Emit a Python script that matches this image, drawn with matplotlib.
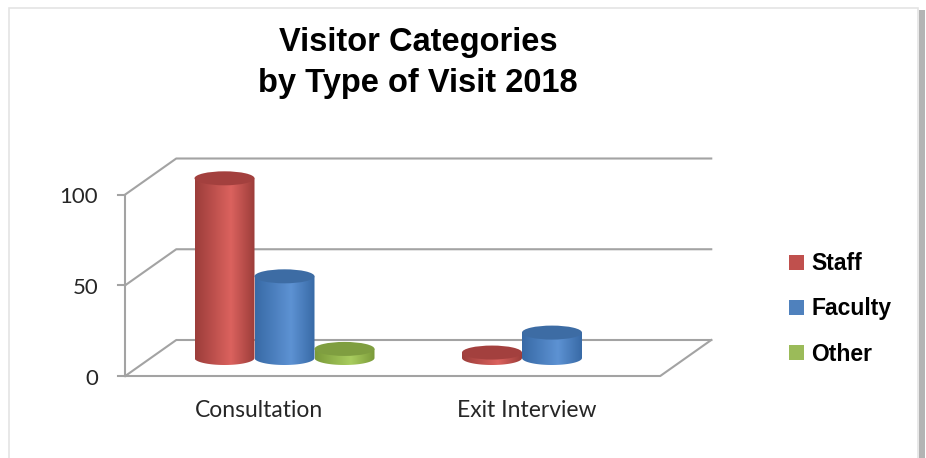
import numpy as np
import matplotlib.pyplot as plt
from matplotlib.patches import Ellipse, Rectangle, PathPatch, Patch
from matplotlib.path import Path
from matplotlib.colors import LinearSegmentedColormap

categories = ['Consultation', 'Exit Interview']
series = ['Staff', 'Faculty', 'Other']
staff = [99, 3]
faculty = [45, 14]
other = [5, 0]
yticks = [0, 50, 100]

# side colours (dark edge, light middle), top colour, legend colour
side_dark = ['#9c3d3a', '#386aa6', '#7a9a39']
side_light = ['#db625e', '#5d92d3', '#a9cd5f']
top_col = ['#a3403e', '#3d6ca4', '#7f9e40']
legend_col = ['#c0504d', '#4f81bd', '#9bbb59']

W, H = 926, 458
fig = plt.figure(figsize=(W / 100, H / 100), dpi=100)

# frame + shadow
fig.patches.append(Rectangle((9 / W, -0.01), 909 / W, 1 - 8 / H + 0.01,
                             transform=fig.transFigure, facecolor='white',
                             edgecolor='#e4e4e4', linewidth=1.2, zorder=-2))
fig.patches.append(Rectangle((919 / W, -0.01), 6 / W, 1 - 10 / H + 0.01,
                             transform=fig.transFigure, facecolor='#b4b4b4',
                             edgecolor='none', zorder=-2))

ax = fig.add_axes([0, 0, 1, 1])
ax.set_axis_off()
# pixel mapping: x: 259 + 267.5*x ; y: 376 - 1.815*v
xs, ys = 267.5, 1.815
xlim = (-259 / xs, (W - 259) / xs)
ylim = ((376 - H) / ys, 376 / ys)

DX, DY = 51 / xs, 36 / ys     # depth offset of back wall
bw = 60 / xs                  # bar width
eh = 14 / ys                  # ellipse height
grid = '#a3a3a3'

# walls and floor
for v in yticks:
    ax.plot([-0.5, -0.5 + DX, 1.5 + DX], [v, v + DY, v + DY], color=grid, lw=1.5, zorder=1)
    ax.plot([-0.5 - 7 / xs, -0.5], [v, v], color=grid, lw=1.5, zorder=1)
    ax.text(-0.5 - 27 / xs, v - 1.5, str(v), ha='right', va='center', fontsize=16,
            family='Lato', color='#262626')
ax.plot([-0.5, -0.5], [0, 100], color=grid, lw=1.5, zorder=1)
ax.plot([-0.5, 1.5, 1.5 + DX], [0, 0, DY], color=grid, lw=1.5, zorder=1)

for i, cat in enumerate(categories):
    ax.text(i, -19, cat, ha='center', va='center', fontsize=16.5,
            family='Lato', color='#262626')


def cylinder(xc, val, k):
    if val <= 0:
        return
    y0 = DY / 2
    x0, x1 = xc - bw / 2, xc + bw / 2
    t = np.linspace(np.pi, 2 * np.pi, 40)
    bottom = np.column_stack([xc + bw / 2 * np.cos(t), y0 + eh / 2 * np.sin(t)])
    verts = np.vstack([[[x0, y0 + val]], bottom, [[x1, y0 + val]], [[x0, y0 + val]]])
    body = PathPatch(Path(verts), facecolor='none', edgecolor='none', zorder=3)
    ax.add_patch(body)
    cmap = LinearSegmentedColormap.from_list(
        'c', [(0, side_dark[k]), (0.6, side_light[k]), (1, side_dark[k])])
    grad = np.linspace(0, 1, 200)[None, :]
    im = ax.imshow(grad, cmap=cmap, extent=(x0, x1, y0 - eh, y0 + val),
                   aspect='auto', zorder=3, interpolation='bilinear')
    im.set_clip_path(body)
    ax.add_patch(Ellipse((xc, y0 + val), bw, eh, facecolor=top_col[k],
                         edgecolor='none', zorder=4))


values = [staff, faculty, other]
for i in range(len(categories)):
    for k in range(len(series)):
        xc = i + DX / 2 + (k - 1) * bw
        cylinder(xc, values[k][i], k)

ax.set_xlim(*xlim)
ax.set_ylim(*ylim)

fig.text(418 / W, 1 - 63 / H, 'Visitor Categories\nby Type of Visit 2018',
         ha='center', va='center', fontsize=23.5, fontweight='bold',
         family='Liberation Sans', linespacing=1.38)

handles = [Patch(facecolor=c) for c in legend_col]
ax.legend(handles, series, loc='center left', bbox_to_anchor=(768 / W, 1 - 309 / H),
          bbox_transform=fig.transFigure, frameon=False, handlelength=0.65,
          handleheight=0.65, handletextpad=0.35, labelspacing=0.97,
          prop={'family': 'Liberation Sans', 'weight': 'bold', 'size': 16.5})

fig.savefig('out.png', dpi=100)
